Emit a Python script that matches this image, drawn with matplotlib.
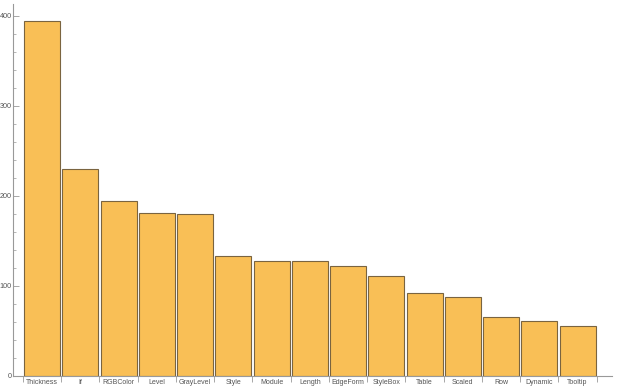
import numpy as np
import matplotlib.pyplot as plt
from matplotlib.ticker import MultipleLocator, FixedLocator

plt.rcParams["font.family"] = ["Liberation Sans", "DejaVu Sans"]

names = ["Thickness", "If", "RGBColor", "Level", "GrayLevel", "Style", "Module",
         "Length", "EdgeForm", "StyleBox", "Table", "Scaled", "Row", "Dynamic", "Tooltip"]
counts = [394, 230, 194, 181, 180, 133, 128, 128, 122, 111, 92, 88, 65, 61, 56]

fig = plt.figure(figsize=(6.2, 3.87), dpi=100)
ax = fig.add_axes([13 / 620, 11 / 387, (612 - 13) / 620, (376 - 4) / 387])

x = np.arange(len(names))
ax.bar(x, counts, width=0.94, color="#f9bf56", edgecolor="#7a6440", linewidth=0.8)

ax.set_xlim(-0.76, 14.9)
ax.set_ylim(0, 413)

for s in ["top", "right"]:
    ax.spines[s].set_visible(False)
for s in ["left", "bottom"]:
    ax.spines[s].set_color("#999999")
    ax.spines[s].set_linewidth(0.8)

ax.yaxis.set_major_locator(MultipleLocator(100))
ax.yaxis.set_minor_locator(MultipleLocator(20))
ax.tick_params(axis="y", which="major", direction="in", length=4, width=0.6,
               color="#999999", labelsize=5.2, labelcolor="#555555", pad=1)
ax.tick_params(axis="y", which="minor", direction="in", length=2, width=0.5, color="#999999")

ax.set_xticks(x)
ax.set_xticklabels(names)
ax.xaxis.set_minor_locator(FixedLocator(np.arange(len(names) + 1) - 0.5))
ax.tick_params(axis="x", which="major", length=0, labelsize=5, labelcolor="#555555", pad=2.5)
ax.tick_params(axis="x", which="minor", direction="out", length=4, width=0.6, color="#999999")

fig.savefig("out.png", dpi=100)
